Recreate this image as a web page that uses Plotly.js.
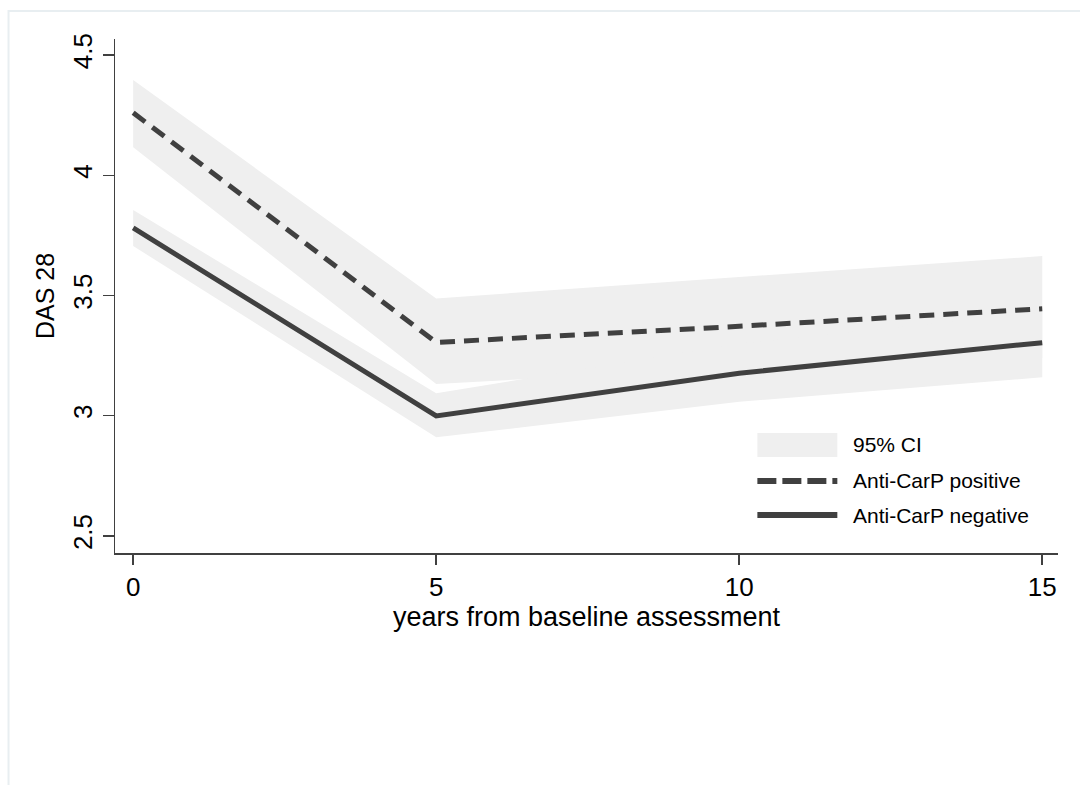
<!DOCTYPE html>
<html>
<head>
<meta charset="utf-8">
<script src="https://cdn.plot.ly/plotly-3.0.1.min.js"></script>
<style>html,body{margin:0;padding:0;background:#fff;}#chart{width:1080px;height:785px;}</style>
</head>
<body>
<div id="chart"></div>
<script>
var years = [0, 5, 10, 15];
var posMean  = [4.26, 3.305, 3.372, 3.445];
var posLower = [4.117, 3.132, 3.20, 3.24];
var posUpper = [4.396, 3.488, 3.577, 3.664];
var negMean  = [3.781, 2.999, 3.177, 3.304];
var negLower = [3.706, 2.910, 3.058, 3.160];
var negUpper = [3.856, 3.093, 3.30, 3.43];
var xTicks = [0, 5, 10, 15];
var yTicks = [2.5, 3, 3.5, 4, 4.5];
var yTickText = ['2.5', '3', '3.5', '4', '4.5'];
var legendLabels = ['95% CI', 'Anti-CarP positive', 'Anti-CarP negative'];

var bandColor = '#efefef';
var lineColor = '#404040';
var font = '"Liberation Sans", Arial, sans-serif';

var traces = [
  {x: years, y: posLower, mode: 'lines', line: {width: 0, color: bandColor}, hoverinfo: 'skip', showlegend: false},
  {x: years, y: posUpper, mode: 'lines', line: {width: 0, color: bandColor}, fill: 'tonexty', fillcolor: bandColor, hoverinfo: 'skip', showlegend: false},
  {x: years, y: negLower, mode: 'lines', line: {width: 0, color: bandColor}, hoverinfo: 'skip', showlegend: false},
  {x: years, y: negUpper, mode: 'lines', line: {width: 0, color: bandColor}, fill: 'tonexty', fillcolor: bandColor, hoverinfo: 'skip', showlegend: false},
  {x: years, y: posMean, mode: 'lines', name: legendLabels[1], line: {width: 5, color: lineColor, dash: '15px,9px'}, showlegend: false},
  {x: years, y: negMean, mode: 'lines', name: legendLabels[2], line: {width: 5, color: lineColor}, showlegend: false}
];

// legend geometry (paper coords)
var lx0 = 0.6812, lx1 = 0.766, tx = 0.781;
var rowY = [0.2102, 0.1401, 0.0739];

var layout = {
  width: 1080, height: 785,
  margin: {l: 114.5, r: 22.3, t: 39, b: 232},
  paper_bgcolor: '#ffffff', plot_bgcolor: '#ffffff',
  showlegend: false,
  font: {family: font, color: '#000'},
  xaxis: {
    range: [-0.30, 15.26], tickvals: xTicks, ticktext: xTicks.map(String),
    showgrid: false, zeroline: false, showline: true, linecolor: lineColor, linewidth: 1.5,
    ticks: 'outside', ticklen: 10, tickwidth: 1.5, tickcolor: lineColor,
    tickfont: {size: 26, family: font, color: '#000'},
    title: {text: 'years from baseline assessment', font: {size: 27, family: font, color: '#000'}, standoff: 0}
  },
  yaxis: {
    range: [2.429, 4.567], tickvals: yTicks, ticktext: yTickText, tickangle: -90,
    showgrid: false, zeroline: false, showline: true, linecolor: lineColor, linewidth: 1.5,
    ticks: 'outside', ticklen: 11, tickwidth: 1.5, tickcolor: lineColor,
    tickfont: {size: 26, family: font, color: '#000'},
    title: {text: 'DAS 28', font: {size: 25, family: font, color: '#000'}, standoff: 6}
  },
  shapes: [
    {type: 'rect', xref: 'paper', yref: 'paper', x0: -0.1129, x1: 1.2, y0: -0.6, y1: 1.0545,
     line: {color: '#e8eef1', width: 2}, fillcolor: 'rgba(0,0,0,0)', layer: 'below'},
    {type: 'rect', xref: 'paper', yref: 'paper', x0: lx0, x1: lx1, y0: 0.1868, y1: 0.2335,
     line: {width: 0}, fillcolor: bandColor},
    {type: 'line', xref: 'paper', yref: 'paper', x0: lx0, x1: lx1, y0: rowY[1], y1: rowY[1],
     line: {color: lineColor, width: 6, dash: '19px,6px'}},
    {type: 'line', xref: 'paper', yref: 'paper', x0: lx0, x1: lx1, y0: rowY[2], y1: rowY[2],
     line: {color: lineColor, width: 6}}
  ],
  annotations: legendLabels.map(function (t, i) {
    return {xref: 'paper', yref: 'paper', x: tx, y: rowY[i], text: t, showarrow: false,
            xanchor: 'left', yanchor: 'middle', font: {size: 21, family: font, color: '#000'}};
  })
};

Plotly.newPlot('chart', traces, layout, {staticPlot: true, displayModeBar: false});
</script>
</body>
</html>
